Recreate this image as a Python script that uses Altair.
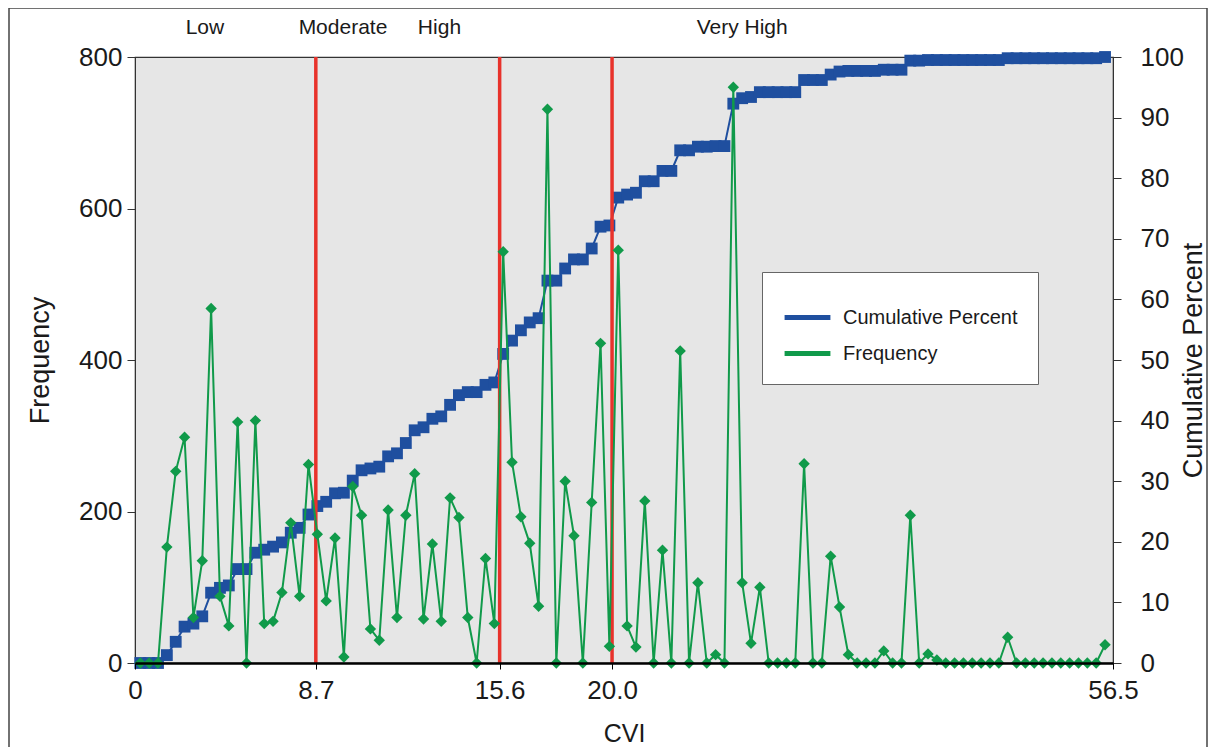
import altair as alt
import pandas as pd

# ---- data ----
freq = [0, 0, 0, 153, 253, 298, 60, 135, 468, 88,
        49, 318, 0, 320, 52, 55, 93, 185, 88, 262,
        170, 82, 165, 8, 233, 195, 45, 30, 202, 60,
        195, 250, 58, 157, 55, 218, 192, 60, 0, 138,
        52, 543, 265, 193, 158, 75, 731, 0, 240, 168,
        0, 212, 422, 22, 545, 49, 21, 214, 0, 149,
        0, 412, 0, 106, 0, 11, 0, 760, 106, 26,
        100, 0, 0, 0, 0, 263, 0, 0, 141, 74,
        11, 0, 0, 0, 16, 0, 0, 195, 0, 12,
        4, 0, 0, 0, 0, 0, 0, 0, 34, 0,
        0, 0, 0, 0, 0, 0, 0, 0, 0, 24]

cum_pct = [0.0, 0.0, 0.0, 1.3, 3.5, 6.0, 6.5, 7.7, 11.6, 12.4,
           12.8, 15.5, 15.5, 18.2, 18.7, 19.2, 19.9, 21.5, 22.3, 24.5,
           25.9, 26.6, 28.0, 28.1, 30.1, 31.8, 32.1, 32.4, 34.1, 34.6,
           36.3, 38.4, 38.9, 40.3, 40.7, 42.6, 44.2, 44.7, 44.7, 45.9,
           46.3, 51.0, 53.2, 54.9, 56.2, 56.9, 63.1, 63.1, 65.1, 66.6,
           66.6, 68.4, 72.0, 72.2, 76.8, 77.3, 77.6, 79.5, 79.5, 81.2,
           81.2, 84.6, 84.6, 85.2, 85.2, 85.3, 85.3, 92.3, 93.2, 93.4,
           94.2, 94.2, 94.2, 94.2, 94.2, 96.2, 96.2, 96.2, 97.1, 97.6,
           97.7, 97.7, 97.7, 97.7, 97.9, 97.9, 97.9, 99.4, 99.4, 99.5,
           99.5, 99.5, 99.5, 99.5, 99.5, 99.5, 99.5, 99.5, 99.8, 99.8,
           99.8, 99.8, 99.8, 99.8, 99.8, 99.8, 99.8, 99.8, 99.8, 100.0]

idx = list(range(len(freq)))

x_domain = [-0.6, 109.9]
tick_pos = [-0.6, 19.83, 40.6, 53.3, 109.9]
tick_labels = ["0", "8.7", "15.6", "20.0", "56.5"]
thresholds = [19.83, 40.6, 53.3]
zone_labels = ["Low", "Moderate", "High", "Very High"]
zone_pos = [7.3, 22.9, 33.8, 68.0]
series_names = ["Cumulative Percent", "Frequency"]

BLUE = "#1f4f9f"
GREEN = "#109a4a"
RED = "#e8322b"
TXT = "#1a1a1a"

df = pd.DataFrame({"idx": idx, "freq": freq, "cum": cum_pct})
thr_df = pd.DataFrame({"thr": thresholds})
zone_df = pd.DataFrame({"pos": zone_pos, "label": zone_labels})

# label expression built from the tick lists
expr = "''"
for p, l in reversed(list(zip(tick_pos, tick_labels))):
    expr = f"abs(datum.value - ({p})) < 0.01 ? '{l}' : " + expr

xscale = alt.Scale(domain=x_domain, nice=False, zero=False)
xaxis = alt.Axis(values=tick_pos, labelExpr=expr, title="CVI", grid=False,
                 labelFontSize=26, labelColor=TXT, labelPadding=8, tickSize=6,
                 tickColor="#000", domainColor="#000", domainWidth=2.5,
                 titleFontSize=25, titleFontWeight="normal", titleColor=TXT,
                 titleX=489, titleY=70, titleBaseline="middle", labelFlush=False,
                 zindex=1)

color_scale = alt.Scale(domain=series_names, range=[BLUE, GREEN])
legend = alt.Legend(title=None, orient="none", legendX=627, legendY=215,
                    fillColor="white", strokeColor="#666", padding=20,
                    symbolType="stroke", symbolStrokeWidth=5, symbolSize=2100,
                    labelFontSize=20, labelColor=TXT, rowPadding=0, labelOffset=10,
                    labelLimit=400)

base = alt.Chart(df)

blue = base.transform_calculate(series="'Cumulative Percent'").mark_line(
    strokeWidth=2,
    point=alt.OverlayMarkDef(shape="square", size=140, filled=True, opacity=1, strokeWidth=0),
).encode(
    x=alt.X("idx:Q", scale=xscale, axis=xaxis),
    y=alt.Y("cum:Q", scale=alt.Scale(domain=[0, 100], nice=False),
            axis=alt.Axis(orient="right", values=list(range(0, 101, 10)), grid=False,
                          title="Cumulative Percent", labelFontSize=26, labelColor=TXT,
                          tickSize=8, labelPadding=19, tickColor="#333", domainColor="#333",
                          titleFontSize=27, titleFontWeight="normal", titleColor=TXT,
                          titleX=80, titleY=303, titleAngle=270, titleAlign="center",
                          titleBaseline="middle")),
    color=alt.Color("series:N", scale=color_scale, legend=legend),
)

red = alt.Chart(thr_df).mark_rule(color=RED, strokeWidth=3.5).encode(
    x=alt.X("thr:Q", scale=xscale, axis=xaxis)
)

green = base.transform_calculate(series="'Frequency'").mark_line(
    strokeWidth=2,
    point=alt.OverlayMarkDef(shape="diamond", size=130, filled=True, opacity=1, strokeWidth=0),
).encode(
    x=alt.X("idx:Q", scale=xscale, axis=xaxis),
    y=alt.Y("freq:Q", scale=alt.Scale(domain=[0, 800], nice=False),
            axis=alt.Axis(orient="left", values=[0, 200, 400, 600, 800], grid=False,
                          title="Frequency", labelFontSize=26, labelColor=TXT,
                          tickSize=8, labelPadding=5, tickColor="#333", domainColor="#333",
                          titleFontSize=27, titleFontWeight="normal", titleColor=TXT,
                          titleX=-95, titleY=303, titleAngle=270, titleAlign="center",
                          titleBaseline="middle")),
    color=alt.Color("series:N", scale=color_scale, legend=legend),
)

zones = alt.Chart(zone_df).mark_text(fontSize=21, color=TXT, baseline="middle").encode(
    x=alt.X("pos:Q", scale=xscale, axis=xaxis),
    y=alt.value(-29),
    text="label:N",
)

frame = alt.Chart(zone_df.head(1)).mark_rect(fill=None, stroke="#444", strokeWidth=1.5).encode(
    x=alt.value(-126), x2=alt.value(1072), y=alt.value(-49), y2=alt.value(800)
)

chart = alt.layer(frame, blue, red, green, zones).resolve_scale(
    y="independent"
).properties(
    width=978, height=606,
    autosize=alt.AutoSizeParams(type="none"),
    padding={"left": 127, "top": 49, "right": 95, "bottom": 84},
).configure(
    font="Liberation Sans",
    background="white",
).configure_view(
    fill="#e6e6e6", stroke="#333", strokeWidth=1.2
)

chart.save("out.html", embed_options={"renderer": "svg", "actions": False})
